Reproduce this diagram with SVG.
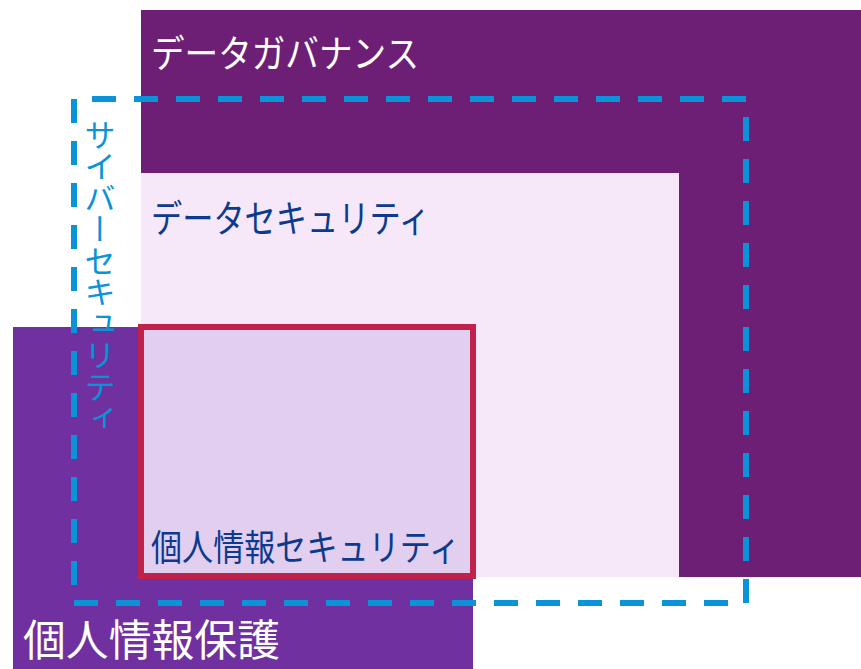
<svg xmlns="http://www.w3.org/2000/svg" width="861" height="669" viewBox="0 0 861 669">
  <style>
    .jp { font-family: "Noto Sans CJK JP", "Noto Sans", sans-serif; }
    .white { fill: #FFFFFF; }
    .navy { fill: #0B3A8E; }
    .cyan { fill: #0A93D8; }
  </style>
  <rect x="0" y="0" width="861" height="669" fill="#FFFFFF"/>
  <g id="data-governance">
    <rect x="141" y="10" width="720" height="567" fill="#6C1F75"/>
    <text class="jp white" x="151" y="67" font-size="38" textLength="268" lengthAdjust="spacingAndGlyphs">データガバナンス</text>
  </g>
  <g id="personal-info-protection">
    <rect x="13" y="327" width="460" height="342" fill="#7030A0"/>
    <text class="jp white" x="23" y="656" font-size="43" textLength="257" lengthAdjust="spacingAndGlyphs">個人情報保護</text>
  </g>
  <g id="data-security">
    <rect x="141" y="173" width="538" height="404" fill="#F6E8F9"/>
    <text class="jp navy" x="151" y="232" font-size="38" textLength="279" lengthAdjust="spacingAndGlyphs">データセキュリティ</text>
  </g>
  <g id="personal-info-security">
    <rect x="141" y="327" width="332" height="249" fill="#E2CEEF" stroke="#C0224C" stroke-width="6"/>
    <text class="jp navy" x="151" y="561" font-size="36" textLength="309" lengthAdjust="spacingAndGlyphs">個人情報セキュリティ</text>
  </g>
  <g id="cyber-security">
    <rect x="74" y="99" width="672" height="504" fill="none" stroke="#0A93D8" stroke-width="6" stroke-dasharray="24 18" stroke-dashoffset="24"/>
    <text class="jp cyan" x="100" y="119" font-size="31.5" writing-mode="vertical-rl">サイバーセキュリティ</text>
  </g>
  <g id="connectors"></g>
</svg>
